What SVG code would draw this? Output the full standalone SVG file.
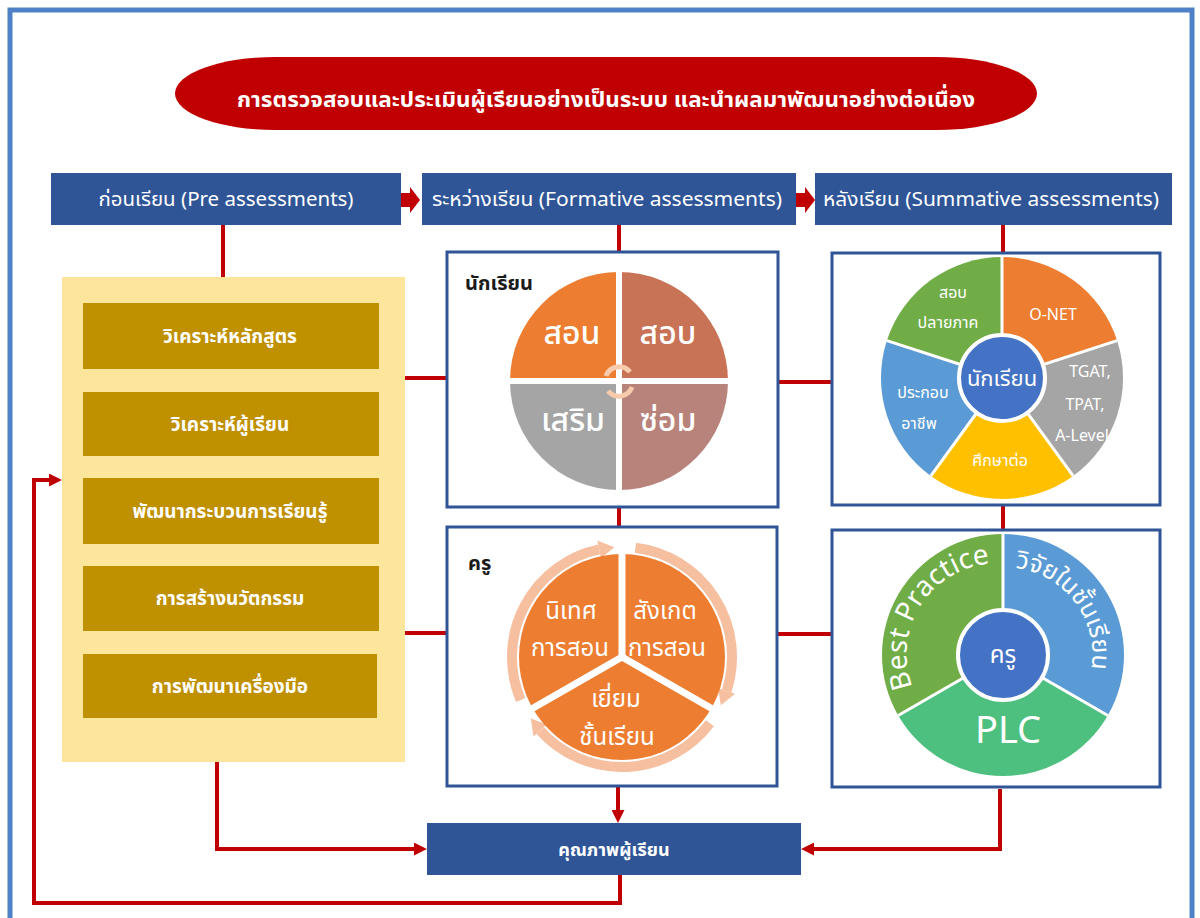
<svg xmlns="http://www.w3.org/2000/svg" xmlns:xlink="http://www.w3.org/1999/xlink" width="1200" height="918" viewBox="0 0 1200 918">
<style>
  .t { font-family: "Noto Sans Thai", "Noto Sans", "Liberation Sans", sans-serif; }
  .w { fill: #ffffff; }
  .hdr { fill: #2f5597; }
  .hdrtxt { font-size: 19px; fill: #ffffff; text-anchor: middle; }
  .gold { fill: #bf9000; }
  .goldtxt { font-size: 19px; font-weight: bold; fill: #ffffff; text-anchor: middle; }
  .frame { fill: #ffffff; stroke: #2f5597; stroke-width: 3; }
  .conn { fill: none; stroke: #c00000; stroke-width: 4; }
  .sep { stroke: #ffffff; fill: none; }
  .lbl { fill: #ffffff; text-anchor: middle; }
</style>
<defs>
  <marker id="ah" markerUnits="userSpaceOnUse" markerWidth="13" markerHeight="13" viewBox="0 0 12 12" refX="1" refY="6" orient="auto">
    <path d="M0,0 L12,6 L0,12 Z" fill="#c00000"/>
  </marker>
  <g id="band">
    <path d="M520.7,700.0 A110,110 0 0 1 599.1,549.4" fill="none" stroke="#f6bfa0" stroke-width="10"/>
    <path d="M601.0,558.2 L597.3,540.6 L614.3,547.3 Z" fill="#f6bfa0"/>
  </g>
  <path id="bpArc" d="M912.6,687.0 A91,91 0 0 1 1010.9,564.3"/>
  <path id="vjArc" d="M1015.2,567.9 A88,88 0 0 1 1082.0,697.0"/>
</defs>

<rect width="1200" height="918" fill="#ffffff"/>
<rect x="10" y="10" width="1182" height="920" fill="none" stroke="#4f81c7" stroke-width="5"/>

<!-- Title -->
<g id="title">
  <rect x="175" y="57" width="862" height="73" rx="100" ry="36.5" fill="#c00000"/>
  <text class="t" x="606" y="107" font-size="22" font-weight="bold" fill="#ffffff" text-anchor="middle" textLength="738" lengthAdjust="spacingAndGlyphs">การตรวจสอบและประเมินผู้เรียนอย่างเป็นระบบ และนำผลมาพัฒนาอย่างต่อเนื่อง</text>
</g>

<!-- Connectors -->
<g id="connectors">
  <path d="M395,193 H410 V187 L420,200 L410,213 V207 H395 Z" fill="#c00000"/>
  <path d="M790,193 H805 V187 L815,200 L805,213 V207 H790 Z" fill="#c00000"/>
  <line class="conn" x1="223" y1="225" x2="223" y2="303"/>
  <line class="conn" x1="222" y1="369" x2="222" y2="392"/>
  <line class="conn" x1="221" y1="456" x2="221" y2="478"/>
  <line class="conn" x1="220" y1="544" x2="220" y2="566"/>
  <line class="conn" x1="219" y1="631" x2="219" y2="654"/>
  <line class="conn" x1="619" y1="225" x2="619" y2="252"/>
  <line class="conn" x1="619" y1="507" x2="619" y2="528"/>
  <line class="conn" x1="1003" y1="225" x2="1003" y2="253"/>
  <line class="conn" x1="1003" y1="505" x2="1003" y2="530"/>
  <line class="conn" x1="405" y1="378" x2="447" y2="378"/>
  <line class="conn" x1="405" y1="633" x2="447" y2="633"/>
  <line class="conn" x1="778" y1="382" x2="832" y2="382"/>
  <line class="conn" x1="777" y1="634" x2="832" y2="634"/>
  <path class="conn" d="M217,718 V849 H415" marker-end="url(#ah)"/>
  <path class="conn" d="M1000,789 V849 H813" marker-end="url(#ah)"/>
  <path class="conn" d="M618,786 V811" marker-end="url(#ah)"/>
  <path class="conn" d="M620,875 V903 H34 V480 H50" marker-end="url(#ah)"/>
</g>

<!-- Headers -->
<g id="hdr-pre">
  <rect class="hdr" x="51" y="173" width="350" height="52"/>
  <text class="t hdrtxt" x="226" y="206" textLength="255" lengthAdjust="spacingAndGlyphs">ก่อนเรียน (Pre assessments)</text>
</g>
<g id="hdr-formative">
  <rect class="hdr" x="422" y="173" width="374" height="52"/>
  <text class="t hdrtxt" x="607" y="206" textLength="350" lengthAdjust="spacingAndGlyphs">ระหว่างเรียน (Formative assessments)</text>
</g>
<g id="hdr-summative">
  <rect class="hdr" x="815" y="173" width="357" height="52"/>
  <text class="t hdrtxt" x="991" y="206" textLength="336" lengthAdjust="spacingAndGlyphs">หลังเรียน (Summative assessments)</text>
</g>

<!-- Left panel -->
<g id="pre-panel">
  <rect x="62" y="277" width="343" height="485" fill="#fee59c"/>
</g>
<g id="step1">
  <rect class="gold" x="83" y="303" width="296" height="66"/>
  <text class="t goldtxt" x="230" y="343">วิเคราะห์หลักสูตร</text>
</g>
<g id="step2">
  <rect class="gold" x="83" y="392" width="296" height="64"/>
  <text class="t goldtxt" x="230" y="431">วิเคราะห์ผู้เรียน</text>
</g>
<g id="step3">
  <rect class="gold" x="83" y="478" width="296" height="66"/>
  <text class="t goldtxt" x="230" y="518">พัฒนากระบวนการเรียนรู้</text>
</g>
<g id="step4">
  <rect class="gold" x="83" y="566" width="296" height="65"/>
  <text class="t goldtxt" x="230" y="605">การสร้างนวัตกรรม</text>
</g>
<g id="step5">
  <rect class="gold" x="83" y="654" width="294" height="64"/>
  <text class="t goldtxt" x="230" y="693">การพัฒนาเครื่องมือ</text>
</g>

<!-- Middle top: students -->
<g id="formative-students">
  <rect class="frame" x="447" y="252" width="331" height="255"/>
  <text class="t" x="465" y="290" font-size="20" font-weight="bold" fill="#1a1a1a">นักเรียน</text>
  <path d="M619,381 L510,381 A109,109 0 0 1 619,272 Z" fill="#ed7d31"/>
  <path d="M619,381 L619,272 A109,109 0 0 1 728,381 Z" fill="#c87355"/>
  <path d="M619,381 L728,381 A109,109 0 0 1 619,490 Z" fill="#b8837a"/>
  <path d="M619,381 L619,490 A109,109 0 0 1 510,381 Z" fill="#a5a5a5"/>
  <line class="sep" x1="619" y1="268" x2="619" y2="494" stroke-width="6"/>
  <line class="sep" x1="506" y1="381" x2="732" y2="381" stroke-width="6"/>
  <path d="M606,376 A14,14 0 0 1 630,372" fill="none" stroke="#f8cbad" stroke-width="5"/>
  <path d="M632,387 A14,14 0 0 1 608,391" fill="none" stroke="#f8cbad" stroke-width="5"/>
  <text class="t lbl" x="572" y="344" font-size="32" font-weight="500">สอน</text>
  <text class="t lbl" x="668" y="344" font-size="32" font-weight="500">สอบ</text>
  <text class="t lbl" x="573" y="431" font-size="32" font-weight="500">เสริม</text>
  <text class="t lbl" x="668" y="431" font-size="32" font-weight="500">ซ่อม</text>
</g>

<!-- Middle bottom: teachers -->
<g id="formative-teachers">
  <rect class="frame" x="447" y="527" width="330" height="259"/>
  <text class="t" x="468" y="570" font-size="20" font-weight="bold" fill="#1a1a1a">ครู</text>
  <use xlink:href="#band"/>
  <use xlink:href="#band" transform="rotate(120 622 657)"/>
  <use xlink:href="#band" transform="rotate(240 622 657)"/>
  <circle cx="622" cy="657" r="103" fill="#ed7d31"/>
  <line class="sep" x1="622" y1="657" x2="622" y2="548" stroke-width="7"/>
  <line class="sep" x1="622" y1="657" x2="716" y2="711" stroke-width="7"/>
  <line class="sep" x1="622" y1="657" x2="528" y2="711" stroke-width="7"/>
  <text class="t lbl" x="571" y="619" font-size="24">นิเทศ</text>
  <text class="t lbl" x="570" y="656" font-size="24">การสอน</text>
  <text class="t lbl" x="665" y="619" font-size="24">สังเกต</text>
  <text class="t lbl" x="667" y="656" font-size="24">การสอน</text>
  <text class="t lbl" x="616" y="707" font-size="24">เยี่ยม</text>
  <text class="t lbl" x="617" y="745" font-size="24">ชั้นเรียน</text>
</g>

<!-- Right top: summative students -->
<g id="summative-students">
  <rect class="frame" x="832" y="253" width="328" height="252"/>
  <path d="M1002,378 L1002,257 A121,121 0 0 1 1117.1,340.6 Z" fill="#ed7d31"/>
  <path d="M1002,378 L1117.1,340.6 A121,121 0 0 1 1073.1,475.9 Z" fill="#a5a5a5"/>
  <path d="M1002,378 L1073.1,475.9 A121,121 0 0 1 930.9,475.9 Z" fill="#ffc000"/>
  <path d="M1002,378 L930.9,475.9 A121,121 0 0 1 886.9,340.6 Z" fill="#5b9bd5"/>
  <path d="M1002,378 L886.9,340.6 A121,121 0 0 1 1002,257 Z" fill="#70ad47"/>
  <line class="sep" x1="1002" y1="378" x2="1002" y2="257" stroke-width="3"/>
  <line class="sep" x1="1002" y1="378" x2="1117.1" y2="340.6" stroke-width="3"/>
  <line class="sep" x1="1002" y1="378" x2="1073.1" y2="475.9" stroke-width="3"/>
  <line class="sep" x1="1002" y1="378" x2="930.9" y2="475.9" stroke-width="3"/>
  <line class="sep" x1="1002" y1="378" x2="886.9" y2="340.6" stroke-width="3"/>
  <circle cx="1002" cy="378" r="43" fill="#4472c4" stroke="#ffffff" stroke-width="4"/>
  <text class="t lbl" x="1002" y="386" font-size="22">นักเรียน</text>
  <text class="t lbl" x="953" y="298" font-size="16">สอบ</text>
  <text class="t lbl" x="948" y="328" font-size="16">ปลายภาค</text>
  <text class="t lbl" x="1053" y="320" font-size="16">O-NET</text>
  <text class="t lbl" x="1090" y="377" font-size="16">TGAT,</text>
  <text class="t lbl" x="1085" y="410" font-size="16">TPAT,</text>
  <text class="t lbl" x="1082" y="441" font-size="16">A-Level</text>
  <text class="t lbl" x="1000" y="466" font-size="16">ศึกษาต่อ</text>
  <text class="t lbl" x="923" y="398" font-size="16">ประกอบ</text>
  <text class="t lbl" x="919" y="429" font-size="16">อาชีพ</text>
</g>

<!-- Right bottom: summative teachers -->
<g id="summative-teachers">
  <rect class="frame" x="832" y="530" width="328" height="257"/>
  <path d="M1003,655 L1003,534 A121,121 0 0 1 1107.8,715.5 Z" fill="#5b9bd5"/>
  <path d="M1003,655 L1107.8,715.5 A121,121 0 0 1 898.2,715.5 Z" fill="#4dbf7e"/>
  <path d="M1003,655 L898.2,715.5 A121,121 0 0 1 1003,534 Z" fill="#70ad47"/>
  <line class="sep" x1="1003" y1="655" x2="1003" y2="534" stroke-width="3"/>
  <line class="sep" x1="1003" y1="655" x2="1107.8" y2="715.5" stroke-width="3"/>
  <line class="sep" x1="1003" y1="655" x2="898.2" y2="715.5" stroke-width="3"/>
  <circle cx="1003" cy="655" r="45" fill="#4472c4" stroke="#ffffff" stroke-width="4"/>
  <text class="t lbl" x="1003" y="663" font-size="24">ครู</text>
  <text class="t" font-size="28" fill="#ffffff"><textPath xlink:href="#bpArc">Best Practice</textPath></text>
  <text class="t" font-size="25" fill="#ffffff"><textPath xlink:href="#vjArc">วิจัยในชั้นเรียน</textPath></text>
  <text class="t lbl" x="1008" y="743" font-size="38">PLC</text>
</g>

<!-- Bottom outcome -->
<g id="outcome">
  <rect class="hdr" x="427" y="823" width="374" height="52"/>
  <text class="t" x="614" y="856" font-size="18" font-weight="bold" fill="#ffffff" text-anchor="middle">คุณภาพผู้เรียน</text>
</g>
</svg>
